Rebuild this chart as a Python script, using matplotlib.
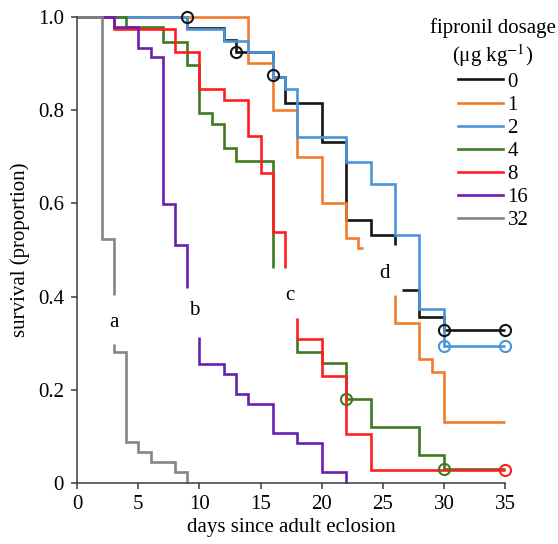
import numpy as np
import matplotlib
matplotlib.use("Agg")
import matplotlib.pyplot as plt
from matplotlib.lines import Line2D

nan = np.nan

# Kaplan-Meier step data (day, survival); NaN marks a break in the drawn curve
days_0 = [0, 9, 12, 13, 16, 17, 20, 22, 24, 26, nan, 26.6, 28, 30, 35]
surv_0 = [1.0, 0.976, 0.951, 0.925, 0.871, 0.814, 0.732, 0.564, 0.532, 0.511, nan, 0.414, 0.356, 0.3285, 0.3285]

days_1 = [0, 14, 16, 18, 20, 22, 23, 23.4, nan, 26, 26, 28, 29, 30, 35]
surv_1 = [1.0, 0.900, 0.800, 0.700, 0.601, 0.525, 0.504, 0.504, nan, 0.403, 0.343, 0.266, 0.238, 0.132, 0.132]

days_2 = [0, 9, 12, 14, 16, 17, 18, 22, 24, 26, 28, 30, 35]
surv_2 = [1.0, 0.973, 0.948, 0.925, 0.871, 0.844, 0.743, 0.689, 0.641, 0.532, 0.3735, 0.294, 0.294]

days_4 = [0, 4, 7, 9, 10, 11, 12, 13, 16, nan, 18, 18, 20, 22, 24, 28, 30, 35]
surv_4 = [1.0, 0.978, 0.946, 0.896, 0.793, 0.770, 0.718, 0.691, 0.461, nan, 0.3085, 0.282, 0.257, 0.181, 0.120, 0.0606, 0.0306, 0.0306]

days_8 = [0, 3, 8, 10, 12, 14, 15, 16, 17, nan, 18, 18, 20, 22, 24, 35]
surv_8 = [1.0, 0.973, 0.925, 0.844, 0.821, 0.744, 0.666, 0.538, 0.461, nan, 0.3535, 0.3085, 0.230, 0.105, 0.0285, 0.0285]

days_16 = [0, 3, 5, 6, 7, 8, 9, nan, 10, 10, 12, 13, 14, 16, 18, 20, 22]
surv_16 = [1.0, 0.978, 0.933, 0.914, 0.598, 0.511, 0.419, nan, 0.314, 0.256, 0.234, 0.191, 0.171, 0.107, 0.086, 0.024, 0.0]

days_32 = [0, 2, 3, nan, 3, 3, 4, 5, 6, 8, 9]
surv_32 = [1.0, 0.523, 0.404, nan, 0.298, 0.281, 0.089, 0.066, 0.045, 0.024, 0.0]

# censoring marks
cens_0_days = [9, 13, 16, 30, 35]
cens_0_surv = [1.0, 0.925, 0.875, 0.3285, 0.3285]
cens_2_days = [30, 35]
cens_2_surv = [0.294, 0.294]
cens_4_days = [22, 30]
cens_4_surv = [0.181, 0.0306]
cens_8_days = [35]
cens_8_surv = [0.0285]

dosage_labels = ["0", "1", "2", "4", "8", "16", "32"]
colors = ["#151515", "#f07d2c", "#4a94dc", "#3d7a22", "#ff1e1e", "#6720b0", "#858585"]

group_letters = ["a", "b", "c", "d"]
letter_days = [3.0, 9.6, 17.4, 25.1]
letter_surv = [0.345, 0.370, 0.402, 0.450]

plt.rcParams['font.family'] = ['Liberation Serif', 'DejaVu Serif']
plt.rcParams['mathtext.fontset'] = 'stix'

FS = 15
fig = plt.figure(figsize=(5.58, 5.44), dpi=100)
ax = fig.add_axes([0.1385, 0.1116, 0.7665, 0.8577])

series = [(days_0, surv_0), (days_1, surv_1), (days_2, surv_2), (days_4, surv_4),
          (days_8, surv_8), (days_16, surv_16), (days_32, surv_32)]
lw = 1.9
for (d, s), c in zip(series, colors):
    ax.plot(d, s, drawstyle='steps-post', color=c, lw=lw, clip_on=False,
            solid_joinstyle='miter', solid_capstyle='butt')

cens = [(cens_0_days, cens_0_surv, colors[0]), (cens_2_days, cens_2_surv, colors[2]),
        (cens_4_days, cens_4_surv, colors[3]), (cens_8_days, cens_8_surv, colors[4])]
for d, s, c in cens:
    ax.plot(d, s, linestyle='none', marker='o', ms=8, mfc='none', mec=c, mew=1.5,
            clip_on=False, zorder=5)

for l, x, y in zip(group_letters, letter_days, letter_surv):
    ax.text(x, y, l, ha='center', va='center', fontsize=FS)

ax.set_xlim(0, 35)
ax.set_ylim(0, 1.0)
ax.set_xticks([0, 5, 10, 15, 20, 25, 30, 35])
ax.set_yticks([0, 0.2, 0.4, 0.6, 0.8, 1.0])
ax.set_yticklabels(["0", "0.2", "0.4", "0.6", "0.8", "1.0"])
for sp in ['top', 'right']:
    ax.spines[sp].set_visible(False)
for sp in ['left', 'bottom']:
    ax.spines[sp].set_color('#3a3a3a')
    ax.spines[sp].set_linewidth(1.1)
ax.tick_params(direction='out', length=4.5, width=1.1, color='#3a3a3a',
               labelsize=FS)
ax.tick_params(axis='y', pad=5)
ax.tick_params(axis='x', pad=4)
ax.set_xlabel("days since adult eclosion", fontsize=FS, labelpad=3)
ax.set_ylabel("survival (proportion)", fontsize=FS, labelpad=6)

handles = [Line2D([], [], color=c, lw=1.9) for c in colors]
leg = ax.legend(handles, dosage_labels, title="fipronil dosage\n(μg kg$^{-1}$)",
                loc='upper center', bbox_to_anchor=(0.972, 1.015), frameon=False,
                fontsize=FS, title_fontsize=FS, handlelength=2.2,
                handletextpad=0.2, labelspacing=0.17, borderaxespad=0)
leg._legend_box.align = "center"
leg.get_title().set_multialignment('center')

fig.savefig("out.png", dpi=100)
